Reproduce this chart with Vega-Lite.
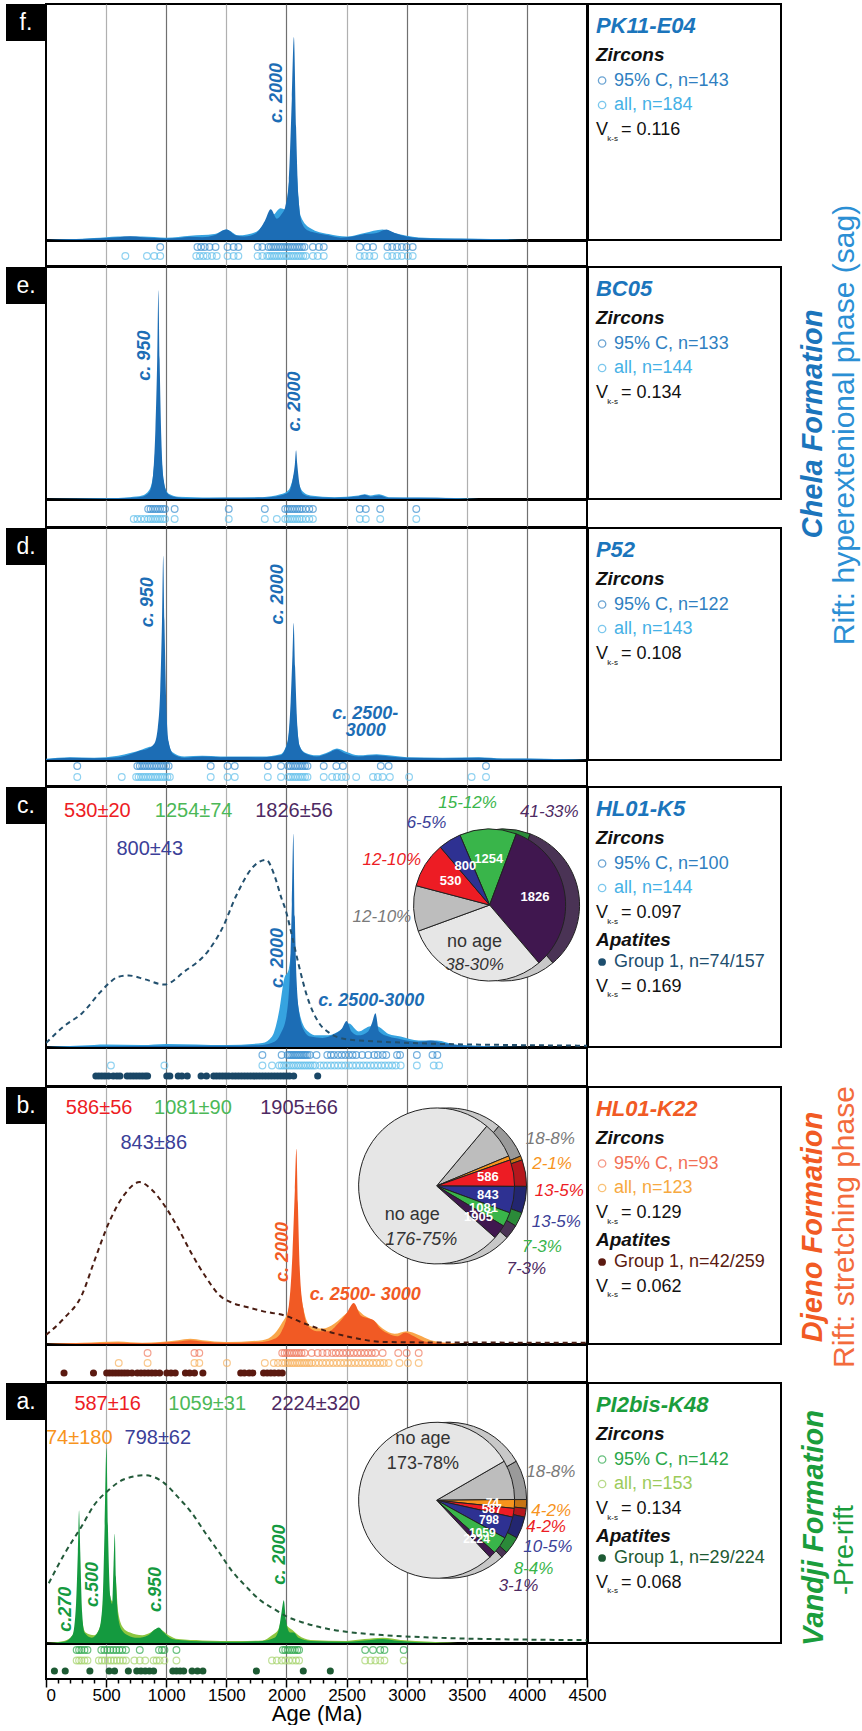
{
"$schema": "https://vega.github.io/schema/vega-lite/v6.json",
"padding": {"left": 6, "top": 3, "right": 0, "bottom": 0},
"background": "white",
"config": {"font": "Liberation Sans, Arial, sans-serif", "view": {"stroke": null}, "concat": {"spacing": 0}},
"datasets": {
"kf_95": [{"age":0,"d":0},{"age":200,"d":0.3},{"age":400,"d":0.6},{"age":600,"d":1.2},{"age":700,"d":1.6},{"age":800,"d":1.2},{"age":900,"d":0.8},{"age":1000,"d":0.6},{"age":1100,"d":0.8},{"age":1200,"d":1.4},{"age":1300,"d":1.2},{"age":1400,"d":2},{"age":1500,"d":4.5},{"age":1580,"d":2},{"age":1650,"d":1.5},{"age":1750,"d":3},{"age":1820,"d":8},{"age":1870,"d":13},{"age":1920,"d":9},{"age":1960,"d":11},{"age":1990,"d":14},{"age":2020,"d":25},{"age":2045,"d":60},{"age":2062,"d":86},{"age":2080,"d":48},{"age":2100,"d":18},{"age":2130,"d":7},{"age":2180,"d":4},{"age":2250,"d":3},{"age":2350,"d":2},{"age":2450,"d":1},{"age":2550,"d":1.5},{"age":2650,"d":2.5},{"age":2750,"d":3},{"age":2830,"d":4.5},{"age":2900,"d":3},{"age":3000,"d":1.5},{"age":3100,"d":0.8},{"age":3300,"d":0.5},{"age":3600,"d":0.4},{"age":3800,"d":0.2},{"age":4000,"d":0},{"age":4500,"d":0}],
"kf_all": [{"age":0,"d":0},{"age":200,"d":0.3},{"age":400,"d":0.8},{"age":600,"d":1.5},{"age":800,"d":1.5},{"age":1000,"d":1},{"age":1200,"d":1.8},{"age":1400,"d":2.5},{"age":1500,"d":4.5},{"age":1600,"d":2},{"age":1750,"d":3.5},{"age":1850,"d":9},{"age":1900,"d":11},{"age":1950,"d":13.5},{"age":1990,"d":13},{"age":2030,"d":30},{"age":2060,"d":55},{"age":2085,"d":30},{"age":2120,"d":10},{"age":2200,"d":5},{"age":2350,"d":2.5},{"age":2500,"d":1.5},{"age":2650,"d":3},{"age":2800,"d":4.5},{"age":2900,"d":3},{"age":3000,"d":1.8},{"age":3200,"d":0.8},{"age":3600,"d":0.5},{"age":3800,"d":0.3},{"age":4000,"d":0},{"age":4500,"d":0}],
"ke_95": [{"age":0,"d":0},{"age":500,"d":0.2},{"age":700,"d":0.5},{"age":800,"d":1},{"age":860,"d":3},{"age":890,"d":10},{"age":910,"d":30},{"age":925,"d":60},{"age":935,"d":90},{"age":945,"d":60},{"age":960,"d":25},{"age":980,"d":8},{"age":1010,"d":2.5},{"age":1060,"d":1},{"age":1200,"d":0.3},{"age":1500,"d":0.5},{"age":1800,"d":0.6},{"age":1950,"d":1.5},{"age":2020,"d":3},{"age":2050,"d":8},{"age":2070,"d":15},{"age":2080,"d":21},{"age":2090,"d":15},{"age":2110,"d":6},{"age":2140,"d":2},{"age":2200,"d":1},{"age":2400,"d":0.5},{"age":2600,"d":1.2},{"age":2650,"d":1.8},{"age":2700,"d":1},{"age":2770,"d":1.5},{"age":2850,"d":0.5},{"age":3100,"d":0.5},{"age":3400,"d":0.3},{"age":3500,"d":0},{"age":4500,"d":0}],
"ke_all": [{"age":0,"d":0},{"age":500,"d":0.3},{"age":700,"d":0.8},{"age":800,"d":1.5},{"age":860,"d":4},{"age":890,"d":10},{"age":910,"d":22},{"age":930,"d":40},{"age":945,"d":35},{"age":965,"d":15},{"age":990,"d":5},{"age":1030,"d":2},{"age":1100,"d":1},{"age":1500,"d":0.6},{"age":1800,"d":0.8},{"age":1950,"d":2},{"age":2020,"d":4},{"age":2050,"d":8},{"age":2075,"d":12},{"age":2100,"d":7},{"age":2140,"d":3},{"age":2200,"d":1.5},{"age":2400,"d":0.8},{"age":2600,"d":1.5},{"age":2650,"d":2},{"age":2700,"d":1.5},{"age":2770,"d":2},{"age":2850,"d":0.8},{"age":3100,"d":0.6},{"age":3400,"d":0.4},{"age":3600,"d":0},{"age":4500,"d":0}],
"kd_95": [{"age":0,"d":0.3},{"age":200,"d":1},{"age":400,"d":0.8},{"age":600,"d":1.2},{"age":700,"d":2.5},{"age":780,"d":4},{"age":850,"d":5},{"age":900,"d":7},{"age":930,"d":14},{"age":950,"d":30},{"age":965,"d":60},{"age":975,"d":88},{"age":985,"d":60},{"age":1000,"d":25},{"age":1020,"d":8},{"age":1060,"d":2.5},{"age":1150,"d":1},{"age":1300,"d":1.5},{"age":1450,"d":1.2},{"age":1600,"d":1.3},{"age":1800,"d":1.2},{"age":1950,"d":2},{"age":2010,"d":8},{"age":2035,"d":25},{"age":2050,"d":45},{"age":2060,"d":59},{"age":2072,"d":40},{"age":2090,"d":15},{"age":2110,"d":6},{"age":2150,"d":3},{"age":2250,"d":1.5},{"age":2350,"d":3},{"age":2420,"d":4.5},{"age":2480,"d":3},{"age":2600,"d":1.5},{"age":2750,"d":2},{"age":2850,"d":1.5},{"age":3000,"d":1},{"age":3300,"d":0.8},{"age":3600,"d":1},{"age":3800,"d":0.5},{"age":4000,"d":0.5},{"age":4300,"d":0.2},{"age":4500,"d":0}],
"kd_all": [{"age":0,"d":0.5},{"age":200,"d":1.2},{"age":400,"d":1},{"age":600,"d":1.8},{"age":700,"d":3},{"age":800,"d":4.5},{"age":850,"d":5.5},{"age":900,"d":6},{"age":935,"d":12},{"age":955,"d":25},{"age":975,"d":45},{"age":990,"d":28},{"age":1010,"d":10},{"age":1050,"d":3.5},{"age":1150,"d":1.5},{"age":1300,"d":1.8},{"age":1450,"d":1.5},{"age":1600,"d":1.5},{"age":1800,"d":1.5},{"age":1950,"d":2.5},{"age":2010,"d":8},{"age":2040,"d":22},{"age":2060,"d":35},{"age":2080,"d":20},{"age":2110,"d":6},{"age":2160,"d":3},{"age":2250,"d":2},{"age":2350,"d":3.5},{"age":2420,"d":5},{"age":2500,"d":3.5},{"age":2600,"d":2},{"age":2750,"d":2.5},{"age":2850,"d":2},{"age":3000,"d":1.2},{"age":3300,"d":1},{"age":3600,"d":1.2},{"age":3800,"d":0.7},{"age":4000,"d":0.6},{"age":4300,"d":0.3},{"age":4500,"d":0}],
"kc_95": [{"age":0,"d":0},{"age":500,"d":0.3},{"age":1000,"d":0.5},{"age":1500,"d":0.5},{"age":1800,"d":0.8},{"age":1900,"d":2},{"age":1950,"d":5},{"age":2000,"d":12},{"age":2030,"d":30},{"age":2045,"d":55},{"age":2058,"d":82},{"age":2070,"d":50},{"age":2085,"d":25},{"age":2110,"d":12},{"age":2150,"d":6},{"age":2200,"d":4},{"age":2300,"d":3.5},{"age":2400,"d":5},{"age":2460,"d":7},{"age":2500,"d":10},{"age":2540,"d":6},{"age":2600,"d":4.5},{"age":2680,"d":6},{"age":2710,"d":9},{"age":2740,"d":13},{"age":2770,"d":6},{"age":2850,"d":4},{"age":2950,"d":3},{"age":3100,"d":2},{"age":3200,"d":2.5},{"age":3300,"d":1.5},{"age":3500,"d":0.5},{"age":4000,"d":0},{"age":4500,"d":0}],
"kc_all": [{"age":0,"d":0},{"age":300,"d":0.6},{"age":500,"d":1},{"age":800,"d":0.8},{"age":1000,"d":1.2},{"age":1500,"d":0.8},{"age":1800,"d":1.5},{"age":1880,"d":4},{"age":1940,"d":14},{"age":1980,"d":26},{"age":2020,"d":30},{"age":2050,"d":38},{"age":2080,"d":22},{"age":2120,"d":11},{"age":2180,"d":6},{"age":2250,"d":4.5},{"age":2350,"d":4.5},{"age":2450,"d":6.5},{"age":2520,"d":9},{"age":2600,"d":6},{"age":2700,"d":8},{"age":2750,"d":8},{"age":2850,"d":5},{"age":2950,"d":4},{"age":3100,"d":2.5},{"age":3250,"d":2.5},{"age":3400,"d":1},{"age":3600,"d":0.5},{"age":4000,"d":0},{"age":4500,"d":0}],
"ac": [{"age":0,"d":1.5},{"age":150,"d":8},{"age":300,"d":13},{"age":450,"d":21},{"age":526,"d":24.6},{"age":600,"d":27},{"age":687,"d":27.5},{"age":824,"d":26},{"age":984,"d":24},{"age":1150,"d":29},{"age":1350,"d":37},{"age":1470,"d":46},{"age":1580,"d":58},{"age":1717,"d":69},{"age":1831,"d":72},{"age":1900,"d":66},{"age":1960,"d":57},{"age":1991,"d":53},{"age":2050,"d":42},{"age":2100,"d":32},{"age":2175,"d":19},{"age":2260,"d":10},{"age":2357,"d":5.4},{"age":2500,"d":3},{"age":2815,"d":2},{"age":3273,"d":1.2},{"age":3800,"d":0.8},{"age":4500,"d":0.5}],
"kb_95": [{"age":0,"d":0},{"age":300,"d":0.3},{"age":600,"d":0.5},{"age":800,"d":0.3},{"age":1100,"d":1},{"age":1200,"d":1.5},{"age":1300,"d":1},{"age":1500,"d":0.5},{"age":1800,"d":0.8},{"age":1900,"d":2},{"age":1960,"d":5},{"age":2020,"d":15},{"age":2050,"d":35},{"age":2070,"d":60},{"age":2083,"d":76},{"age":2095,"d":55},{"age":2110,"d":30},{"age":2140,"d":14},{"age":2180,"d":7},{"age":2250,"d":5},{"age":2350,"d":5},{"age":2430,"d":8},{"age":2500,"d":12},{"age":2560,"d":16},{"age":2620,"d":11},{"age":2680,"d":10},{"age":2730,"d":9},{"age":2780,"d":6},{"age":2850,"d":4},{"age":2920,"d":3},{"age":2990,"d":4.5},{"age":3060,"d":3},{"age":3150,"d":1},{"age":3300,"d":0.3},{"age":3500,"d":0},{"age":4500,"d":0}],
"kb_all": [{"age":0,"d":0},{"age":300,"d":0.5},{"age":600,"d":1},{"age":800,"d":0.5},{"age":1100,"d":1.5},{"age":1200,"d":2},{"age":1300,"d":1.5},{"age":1500,"d":0.8},{"age":1800,"d":1.5},{"age":1900,"d":4},{"age":1960,"d":8},{"age":2020,"d":14},{"age":2060,"d":28},{"age":2083,"d":42},{"age":2110,"d":24},{"age":2150,"d":12},{"age":2200,"d":7},{"age":2300,"d":6},{"age":2400,"d":8},{"age":2500,"d":12},{"age":2560,"d":14},{"age":2650,"d":11},{"age":2730,"d":9},{"age":2800,"d":6},{"age":2900,"d":4},{"age":3000,"d":5},{"age":3100,"d":3.5},{"age":3200,"d":1.5},{"age":3350,"d":0.5},{"age":3500,"d":0},{"age":4500,"d":0}],
"ab": [{"age":0,"d":3.5},{"age":150,"d":10},{"age":298,"d":19},{"age":400,"d":32},{"age":526,"d":47.5},{"age":650,"d":58},{"age":778,"d":63},{"age":880,"d":60},{"age":984,"d":54},{"age":1100,"d":45},{"age":1213,"d":35},{"age":1330,"d":26},{"age":1442,"d":19},{"age":1550,"d":16},{"age":1671,"d":14.4},{"age":1800,"d":12.8},{"age":1991,"d":11},{"age":2150,"d":8},{"age":2357,"d":4.7},{"age":2550,"d":2.5},{"age":2815,"d":0.8},{"age":3200,"d":0.6},{"age":4500,"d":0.5}],
"ka_95": [{"age":0,"d":0},{"age":150,"d":0.5},{"age":220,"d":3},{"age":250,"d":15},{"age":265,"d":35},{"age":275,"d":51},{"age":285,"d":35},{"age":300,"d":12},{"age":320,"d":4},{"age":380,"d":2},{"age":440,"d":5},{"age":470,"d":15},{"age":488,"d":45},{"age":503,"d":75},{"age":515,"d":45},{"age":535,"d":18},{"age":550,"d":15},{"age":562,"d":30},{"age":572,"d":42},{"age":582,"d":25},{"age":600,"d":10},{"age":630,"d":5},{"age":680,"d":3},{"age":760,"d":2},{"age":850,"d":3},{"age":900,"d":5},{"age":938,"d":6},{"age":980,"d":4},{"age":1050,"d":1.5},{"age":1200,"d":0.8},{"age":1500,"d":0.5},{"age":1800,"d":0.8},{"age":1900,"d":2},{"age":1940,"d":6},{"age":1960,"d":12},{"age":1978,"d":16.4},{"age":1995,"d":9},{"age":2030,"d":4},{"age":2060,"d":4},{"age":2100,"d":2},{"age":2200,"d":0.8},{"age":2500,"d":0.5},{"age":2700,"d":1.2},{"age":2800,"d":1.5},{"age":2900,"d":1},{"age":3100,"d":0.3},{"age":3400,"d":0},{"age":4500,"d":0}],
"ka_all": [{"age":0,"d":0},{"age":150,"d":0.8},{"age":220,"d":3},{"age":250,"d":9},{"age":275,"d":28},{"age":300,"d":9},{"age":330,"d":4},{"age":400,"d":3},{"age":460,"d":8},{"age":485,"d":25},{"age":503,"d":42},{"age":525,"d":20},{"age":555,"d":16},{"age":575,"d":26},{"age":600,"d":12},{"age":640,"d":6},{"age":700,"d":4},{"age":800,"d":3},{"age":870,"d":4},{"age":920,"d":5.5},{"age":960,"d":5},{"age":1020,"d":3},{"age":1100,"d":1.5},{"age":1300,"d":1},{"age":1600,"d":0.8},{"age":1800,"d":1},{"age":1880,"d":3},{"age":1930,"d":5},{"age":1970,"d":10},{"age":2000,"d":7},{"age":2050,"d":5},{"age":2100,"d":3},{"age":2200,"d":1.2},{"age":2500,"d":0.8},{"age":2650,"d":1.5},{"age":2800,"d":2},{"age":2950,"d":1.2},{"age":3200,"d":0.5},{"age":3500,"d":0},{"age":4500,"d":0}],
"aa": [{"age":23,"d":23},{"age":150,"d":34},{"age":298,"d":45},{"age":400,"d":53},{"age":526,"d":59},{"age":650,"d":63},{"age":824,"d":64.5},{"age":984,"d":61.5},{"age":1100,"d":56},{"age":1213,"d":50},{"age":1330,"d":42},{"age":1442,"d":34.7},{"age":1550,"d":27.5},{"age":1671,"d":21.4},{"age":1780,"d":16.5},{"age":1900,"d":13},{"age":2010,"d":10},{"age":2128,"d":8},{"age":2357,"d":5.3},{"age":2600,"d":3.8},{"age":2815,"d":3},{"age":3273,"d":2},{"age":4000,"d":1.3},{"age":4500,"d":1.1}],
"sf": [{"s":"95","age":950},{"s":"95","age":1260},{"s":"95","age":1290},{"s":"95","age":1320},{"s":"95","age":1360},{"s":"95","age":1410},{"s":"95","age":1510},{"s":"95","age":1560},{"s":"95","age":1600},{"s":"95","age":1760},{"s":"95","age":1800},{"s":"95","age":1850},{"s":"95","age":1870},{"s":"95","age":1890},{"s":"95","age":1910},{"s":"95","age":1930},{"s":"95","age":1950},{"s":"95","age":1970},{"s":"95","age":1990},{"s":"95","age":2010},{"s":"95","age":2030},{"s":"95","age":2050},{"s":"95","age":2070},{"s":"95","age":2090},{"s":"95","age":2110},{"s":"95","age":2130},{"s":"95","age":2150},{"s":"95","age":2220},{"s":"95","age":2270},{"s":"95","age":2310},{"s":"95","age":2610},{"s":"95","age":2670},{"s":"95","age":2720},{"s":"95","age":2840},{"s":"95","age":2880},{"s":"95","age":2920},{"s":"95","age":2960},{"s":"95","age":3000},{"s":"95","age":3050},
{"s":"all","age":660},{"s":"all","age":840},{"s":"all","age":900},{"s":"all","age":950},{"s":"all","age":1250},{"s":"all","age":1280},{"s":"all","age":1310},{"s":"all","age":1340},{"s":"all","age":1380},{"s":"all","age":1420},{"s":"all","age":1510},{"s":"all","age":1560},{"s":"all","age":1600},{"s":"all","age":1760},{"s":"all","age":1800},{"s":"all","age":1840},{"s":"all","age":1860},{"s":"all","age":1880},{"s":"all","age":1900},{"s":"all","age":1920},{"s":"all","age":1940},{"s":"all","age":1960},{"s":"all","age":1980},{"s":"all","age":2000},{"s":"all","age":2020},{"s":"all","age":2040},{"s":"all","age":2060},{"s":"all","age":2080},{"s":"all","age":2100},{"s":"all","age":2120},{"s":"all","age":2140},{"s":"all","age":2160},{"s":"all","age":2220},{"s":"all","age":2260},{"s":"all","age":2310},{"s":"all","age":2610},{"s":"all","age":2650},{"s":"all","age":2690},{"s":"all","age":2730},{"s":"all","age":2840},{"s":"all","age":2880},{"s":"all","age":2920},{"s":"all","age":2960},{"s":"all","age":3010},{"s":"all","age":3050}],
"se": [{"s":"95","age":850},{"s":"95","age":870},{"s":"95","age":890},{"s":"95","age":910},{"s":"95","age":930},{"s":"95","age":950},{"s":"95","age":970},{"s":"95","age":990},{"s":"95","age":1070},{"s":"95","age":1520},{"s":"95","age":1820},{"s":"95","age":1990},{"s":"95","age":2010},{"s":"95","age":2030},{"s":"95","age":2050},{"s":"95","age":2070},{"s":"95","age":2090},{"s":"95","age":2110},{"s":"95","age":2130},{"s":"95","age":2160},{"s":"95","age":2190},{"s":"95","age":2220},{"s":"95","age":2610},{"s":"95","age":2660},{"s":"95","age":2780},{"s":"95","age":3080},
{"s":"all","age":730},{"s":"all","age":760},{"s":"all","age":790},{"s":"all","age":820},{"s":"all","age":850},{"s":"all","age":870},{"s":"all","age":890},{"s":"all","age":910},{"s":"all","age":930},{"s":"all","age":950},{"s":"all","age":970},{"s":"all","age":990},{"s":"all","age":1070},{"s":"all","age":1520},{"s":"all","age":1820},{"s":"all","age":1920},{"s":"all","age":1990},{"s":"all","age":2010},{"s":"all","age":2030},{"s":"all","age":2050},{"s":"all","age":2070},{"s":"all","age":2090},{"s":"all","age":2110},{"s":"all","age":2130},{"s":"all","age":2160},{"s":"all","age":2190},{"s":"all","age":2220},{"s":"all","age":2610},{"s":"all","age":2660},{"s":"all","age":2780},{"s":"all","age":3080}],
"sd": [{"s":"95","age":260},{"s":"95","age":760},{"s":"95","age":780},{"s":"95","age":800},{"s":"95","age":820},{"s":"95","age":840},{"s":"95","age":860},{"s":"95","age":880},{"s":"95","age":900},{"s":"95","age":920},{"s":"95","age":940},{"s":"95","age":960},{"s":"95","age":980},{"s":"95","age":1000},{"s":"95","age":1020},{"s":"95","age":1370},{"s":"95","age":1510},{"s":"95","age":1570},{"s":"95","age":1845},{"s":"95","age":1955},{"s":"95","age":2015},{"s":"95","age":2035},{"s":"95","age":2055},{"s":"95","age":2075},{"s":"95","age":2095},{"s":"95","age":2115},{"s":"95","age":2135},{"s":"95","age":2155},{"s":"95","age":2175},{"s":"95","age":2310},{"s":"95","age":2415},{"s":"95","age":2470},{"s":"95","age":2785},{"s":"95","age":2850},{"s":"95","age":3660},
{"s":"all","age":260},{"s":"all","age":630},{"s":"all","age":750},{"s":"all","age":770},{"s":"all","age":790},{"s":"all","age":810},{"s":"all","age":830},{"s":"all","age":850},{"s":"all","age":870},{"s":"all","age":890},{"s":"all","age":910},{"s":"all","age":930},{"s":"all","age":950},{"s":"all","age":970},{"s":"all","age":990},{"s":"all","age":1010},{"s":"all","age":1030},{"s":"all","age":1370},{"s":"all","age":1510},{"s":"all","age":1570},{"s":"all","age":1845},{"s":"all","age":1955},{"s":"all","age":2015},{"s":"all","age":2035},{"s":"all","age":2055},{"s":"all","age":2075},{"s":"all","age":2095},{"s":"all","age":2115},{"s":"all","age":2135},{"s":"all","age":2155},{"s":"all","age":2175},{"s":"all","age":2310},{"s":"all","age":2380},{"s":"all","age":2420},{"s":"all","age":2460},{"s":"all","age":2495},{"s":"all","age":2580},{"s":"all","age":2720},{"s":"all","age":2760},{"s":"all","age":2800},{"s":"all","age":2860},{"s":"all","age":3020},{"s":"all","age":3540},{"s":"all","age":3660}],
"sc": [{"s":"95","age":1800},{"s":"95","age":1960},{"s":"95","age":2010},{"s":"95","age":2025},{"s":"95","age":2040},{"s":"95","age":2055},{"s":"95","age":2070},{"s":"95","age":2085},{"s":"95","age":2100},{"s":"95","age":2115},{"s":"95","age":2130},{"s":"95","age":2145},{"s":"95","age":2160},{"s":"95","age":2175},{"s":"95","age":2195},{"s":"95","age":2250},{"s":"95","age":2340},{"s":"95","age":2370},{"s":"95","age":2395},{"s":"95","age":2430},{"s":"95","age":2460},{"s":"95","age":2490},{"s":"95","age":2520},{"s":"95","age":2550},{"s":"95","age":2580},{"s":"95","age":2630},{"s":"95","age":2680},{"s":"95","age":2730},{"s":"95","age":2760},{"s":"95","age":2800},{"s":"95","age":2830},{"s":"95","age":2920},{"s":"95","age":2945},{"s":"95","age":3085},{"s":"95","age":3215},{"s":"95","age":3255},
{"s":"all","age":540},{"s":"all","age":985},{"s":"all","age":1800},{"s":"all","age":1880},{"s":"all","age":1940},{"s":"all","age":1960},{"s":"all","age":1980},{"s":"all","age":2000},{"s":"all","age":2020},{"s":"all","age":2040},{"s":"all","age":2060},{"s":"all","age":2080},{"s":"all","age":2100},{"s":"all","age":2120},{"s":"all","age":2140},{"s":"all","age":2160},{"s":"all","age":2180},{"s":"all","age":2200},{"s":"all","age":2220},{"s":"all","age":2240},{"s":"all","age":2280},{"s":"all","age":2310},{"s":"all","age":2340},{"s":"all","age":2370},{"s":"all","age":2400},{"s":"all","age":2430},{"s":"all","age":2460},{"s":"all","age":2490},{"s":"all","age":2520},{"s":"all","age":2550},{"s":"all","age":2580},{"s":"all","age":2610},{"s":"all","age":2640},{"s":"all","age":2670},{"s":"all","age":2700},{"s":"all","age":2730},{"s":"all","age":2760},{"s":"all","age":2790},{"s":"all","age":2820},{"s":"all","age":2850},{"s":"all","age":2880},{"s":"all","age":2910},{"s":"all","age":2950},{"s":"all","age":3085},{"s":"all","age":3225},{"s":"all","age":3270},
{"s":"apt","age":415},{"s":"apt","age":440},{"s":"apt","age":465},{"s":"apt","age":490},{"s":"apt","age":520},{"s":"apt","age":560},{"s":"apt","age":590},{"s":"apt","age":615},{"s":"apt","age":675},{"s":"apt","age":700},{"s":"apt","age":725},{"s":"apt","age":750},{"s":"apt","age":775},{"s":"apt","age":800},{"s":"apt","age":825},{"s":"apt","age":845},{"s":"apt","age":1005},{"s":"apt","age":1030},{"s":"apt","age":1100},{"s":"apt","age":1130},{"s":"apt","age":1175},{"s":"apt","age":1290},{"s":"apt","age":1335},{"s":"apt","age":1395},{"s":"apt","age":1420},{"s":"apt","age":1445},{"s":"apt","age":1470},{"s":"apt","age":1495},{"s":"apt","age":1520},{"s":"apt","age":1550},{"s":"apt","age":1575},{"s":"apt","age":1600},{"s":"apt","age":1625},{"s":"apt","age":1650},{"s":"apt","age":1675},{"s":"apt","age":1700},{"s":"apt","age":1725},{"s":"apt","age":1750},{"s":"apt","age":1775},{"s":"apt","age":1800},{"s":"apt","age":1825},{"s":"apt","age":1850},{"s":"apt","age":1875},{"s":"apt","age":1900},{"s":"apt","age":1925},{"s":"apt","age":1950},{"s":"apt","age":1975},{"s":"apt","age":2000},{"s":"apt","age":2025},{"s":"apt","age":2060},{"s":"apt","age":2260}],
"sb": [{"s":"95","age":845},{"s":"95","age":1235},{"s":"95","age":1275},{"s":"95","age":1965},{"s":"95","age":1985},{"s":"95","age":2005},{"s":"95","age":2025},{"s":"95","age":2045},{"s":"95","age":2065},{"s":"95","age":2085},{"s":"95","age":2105},{"s":"95","age":2125},{"s":"95","age":2150},{"s":"95","age":2210},{"s":"95","age":2260},{"s":"95","age":2300},{"s":"95","age":2340},{"s":"95","age":2380},{"s":"95","age":2410},{"s":"95","age":2440},{"s":"95","age":2470},{"s":"95","age":2500},{"s":"95","age":2530},{"s":"95","age":2560},{"s":"95","age":2590},{"s":"95","age":2620},{"s":"95","age":2650},{"s":"95","age":2680},{"s":"95","age":2710},{"s":"95","age":2740},{"s":"95","age":2800},{"s":"95","age":2930},{"s":"95","age":3000},{"s":"95","age":3100},
{"s":"all","age":605},{"s":"all","age":845},{"s":"all","age":1235},{"s":"all","age":1275},{"s":"all","age":1505},{"s":"all","age":1820},{"s":"all","age":1895},{"s":"all","age":1930},{"s":"all","age":1965},{"s":"all","age":1990},{"s":"all","age":2010},{"s":"all","age":2030},{"s":"all","age":2050},{"s":"all","age":2070},{"s":"all","age":2090},{"s":"all","age":2110},{"s":"all","age":2130},{"s":"all","age":2150},{"s":"all","age":2170},{"s":"all","age":2190},{"s":"all","age":2210},{"s":"all","age":2240},{"s":"all","age":2270},{"s":"all","age":2300},{"s":"all","age":2330},{"s":"all","age":2360},{"s":"all","age":2390},{"s":"all","age":2420},{"s":"all","age":2450},{"s":"all","age":2480},{"s":"all","age":2510},{"s":"all","age":2540},{"s":"all","age":2570},{"s":"all","age":2600},{"s":"all","age":2630},{"s":"all","age":2660},{"s":"all","age":2690},{"s":"all","age":2720},{"s":"all","age":2750},{"s":"all","age":2780},{"s":"all","age":2810},{"s":"all","age":2850},{"s":"all","age":2940},{"s":"all","age":3010},{"s":"all","age":3100},
{"s":"apt","age":150},{"s":"apt","age":395},{"s":"apt","age":505},{"s":"apt","age":530},{"s":"apt","age":555},{"s":"apt","age":580},{"s":"apt","age":605},{"s":"apt","age":630},{"s":"apt","age":655},{"s":"apt","age":680},{"s":"apt","age":715},{"s":"apt","age":760},{"s":"apt","age":790},{"s":"apt","age":820},{"s":"apt","age":850},{"s":"apt","age":880},{"s":"apt","age":910},{"s":"apt","age":945},{"s":"apt","age":1005},{"s":"apt","age":1040},{"s":"apt","age":1075},{"s":"apt","age":1160},{"s":"apt","age":1195},{"s":"apt","age":1235},{"s":"apt","age":1305},{"s":"apt","age":1620},{"s":"apt","age":1650},{"s":"apt","age":1690},{"s":"apt","age":1720},{"s":"apt","age":1810},{"s":"apt","age":1840},{"s":"apt","age":1870},{"s":"apt","age":1900},{"s":"apt","age":1935},{"s":"apt","age":1965}],
"sa": [{"s":"95","age":255},{"s":"95","age":275},{"s":"95","age":295},{"s":"95","age":320},{"s":"95","age":345},{"s":"95","age":460},{"s":"95","age":485},{"s":"95","age":510},{"s":"95","age":535},{"s":"95","age":560},{"s":"95","age":585},{"s":"95","age":610},{"s":"95","age":635},{"s":"95","age":665},{"s":"95","age":780},{"s":"95","age":940},{"s":"95","age":965},{"s":"95","age":985},{"s":"95","age":1085},{"s":"95","age":1970},{"s":"95","age":1990},{"s":"95","age":2010},{"s":"95","age":2030},{"s":"95","age":2050},{"s":"95","age":2070},{"s":"95","age":2090},{"s":"95","age":2105},{"s":"95","age":2655},{"s":"95","age":2720},{"s":"95","age":2780},{"s":"95","age":2815},{"s":"95","age":2975},
{"s":"all","age":255},{"s":"all","age":275},{"s":"all","age":295},{"s":"all","age":320},{"s":"all","age":345},{"s":"all","age":440},{"s":"all","age":465},{"s":"all","age":490},{"s":"all","age":515},{"s":"all","age":540},{"s":"all","age":565},{"s":"all","age":590},{"s":"all","age":615},{"s":"all","age":640},{"s":"all","age":665},{"s":"all","age":735},{"s":"all","age":780},{"s":"all","age":825},{"s":"all","age":895},{"s":"all","age":920},{"s":"all","age":945},{"s":"all","age":985},{"s":"all","age":1085},{"s":"all","age":1880},{"s":"all","age":1920},{"s":"all","age":1960},{"s":"all","age":1990},{"s":"all","age":2020},{"s":"all","age":2050},{"s":"all","age":2080},{"s":"all","age":2105},{"s":"all","age":2655},{"s":"all","age":2700},{"s":"all","age":2740},{"s":"all","age":2780},{"s":"all","age":2815},{"s":"all","age":2975},
{"s":"apt","age":70},{"s":"apt","age":160},{"s":"apt","age":365},{"s":"apt","age":525},{"s":"apt","age":570},{"s":"apt","age":685},{"s":"apt","age":755},{"s":"apt","age":790},{"s":"apt","age":825},{"s":"apt","age":860},{"s":"apt","age":895},{"s":"apt","age":1055},{"s":"apt","age":1085},{"s":"apt","age":1115},{"s":"apt","age":1145},{"s":"apt","age":1215},{"s":"apt","age":1260},{"s":"apt","age":1305},{"s":"apt","age":1750},{"s":"apt","age":2140},{"s":"apt","age":2365}],
"pc": [{"k":1,"s":"g","n":15,"lab":"1254","age":3690,"age2":3806,"d":54.6},{"k":2,"s":"p","n":41,"lab":"1826","age":3690,"age2":3806,"d":54.6},{"k":3,"s":"na","n":38,"lab":"","age":3690,"age2":3806,"d":54.6},{"k":4,"s":"gy","n":12,"lab":"","age":3690,"age2":3806,"d":54.6},{"k":5,"s":"r","n":12,"lab":"530","age":3690,"age2":3806,"d":54.6},{"k":6,"s":"b","n":6,"lab":"800","age":3690,"age2":3806,"d":54.6}],
"pb": [{"k":1,"s":"gy","n":18,"lab":"","age":3249,"age2":3349,"d":61.5},{"k":2,"s":"o","n":2,"lab":"","age":3249,"age2":3349,"d":61.5},{"k":3,"s":"r","n":13,"lab":"586","age":3249,"age2":3349,"d":61.5},{"k":4,"s":"b","n":13,"lab":"843","age":3249,"age2":3349,"d":61.5},{"k":5,"s":"g","n":7,"lab":"1081","age":3249,"age2":3349,"d":61.5},{"k":6,"s":"p","n":7,"lab":"1905","age":3249,"age2":3349,"d":61.5},{"k":7,"s":"na","n":176,"lab":"","age":3249,"age2":3349,"d":61.5}],
"pa": [{"k":1,"s":"gy","n":18,"lab":"","age":3249,"age2":3349,"d":54.9},{"k":2,"s":"o","n":4,"lab":"74","age":3249,"age2":3349,"d":54.9},{"k":3,"s":"r","n":4,"lab":"587","age":3249,"age2":3349,"d":54.9},{"k":4,"s":"b","n":10,"lab":"798","age":3249,"age2":3349,"d":54.9},{"k":5,"s":"g","n":8,"lab":"1059","age":3249,"age2":3349,"d":54.9},{"k":6,"s":"p","n":3,"lab":"2224","age":3249,"age2":3349,"d":54.9},{"k":7,"s":"na","n":173,"lab":"","age":3249,"age2":3349,"d":54.9}]
},
"hconcat": [
{"vconcat": [
{"hconcat": [
 {"width":40,"height":37,"view":{"fill":"black","stroke":null},"data":{"values":[{"t":"f."}]},"mark":{"type":"text","color":"white","fontSize":23},"encoding":{"text":{"field":"t"}}},
 {"vconcat": [
  {"hconcat": [
   {"width":541,"height":236,"view":{"stroke":"black","strokeWidth":2},
    "encoding":{"x":{"field":"age","type":"quantitative","scale":{"domain":[0,4500],"nice":false,"zero":false},"title":null,"axis":{"values":[500,1000,1500,2000,2500,3000,3500,4000],"grid":true,"labels":false,"ticks":false,"domain":false,"title":null,"gridColor":{"condition":{"test":"datum.value % 1000 === 0","value":"#707070"},"value":"#b0b0b0"},"gridWidth":1.2}},"y":{"field":"d","type":"quantitative","scale":{"domain":[0,100]},"axis":null}},
    "layer":[
     {"data":{"name":"kf_all"},"mark":{"type":"area","interpolate":"monotone","color":"#36a3e0"}},
     {"data":{"name":"kf_95"},"mark":{"type":"area","interpolate":"monotone","color":"#1c6db5"}},
     {"data":{"values":[{"age":1923,"d":62.3,"t":"c. 2000"}]},"mark":{"type":"text","angle":270,"fontSize":18,"fontWeight":"bold","fontStyle":"italic","color":"#1c6db5"},"encoding":{"text":{"field":"t"}}}
    ]},
   {"width":193,"height":236,"view":{"stroke":"black","strokeWidth":2},
    "encoding":{"x":{"field":"col","type":"quantitative","scale":{"domain":[0,10]},"axis":null},"y":{"field":"line","type":"quantitative","scale":{"domain":[0,9.44],"reverse":true},"axis":null}},
    "layer":[
     {"data":{"values":[{"col":0.41,"line":0.86,"t":"PK11-E04"}]},"mark":{"type":"text","align":"left","baseline":"middle","fontSize":22,"fontWeight":"bold","fontStyle":"italic","color":"#1b75bc"},"encoding":{"text":{"field":"t"}}},
     {"data":{"values":[{"col":0.41,"line":2.02,"t":"Zircons"}]},"mark":{"type":"text","align":"left","baseline":"middle","fontSize":19,"fontWeight":"bold","fontStyle":"italic","color":"#111111"},"encoding":{"text":{"field":"t"}}},
     {"data":{"values":[{"col":1.35,"line":3.06,"t":"95% C, n=143","k":"c95"},{"col":1.35,"line":4.04,"t":"all, n=184","k":"call"},{"col":0.41,"line":5.04,"t":"V","k":"blk"},{"col":1.71,"line":5.04,"t":"= 0.116","k":"blk"}]},"mark":{"type":"text","align":"left","baseline":"middle","fontSize":18},"encoding":{"text":{"field":"t"},"color":{"field":"k","type":"nominal","scale":{"domain":["c95","call","blk","grp"],"range":["#2f7fc1","#45b1e6","#111111","#1d4e6e"]},"legend":null}}},
     {"data":{"values":[{"col":1.0,"line":5.38,"t":"k-s"}]},"mark":{"type":"text","align":"left","baseline":"middle","fontSize":8,"color":"#111111"},"encoding":{"text":{"field":"t"}}},
     {"data":{"values":[{"col":0.73,"line":3.06,"k":"c95"},{"col":0.73,"line":4.04,"k":"call"}]},"mark":{"type":"point","shape":"circle","filled":false,"size":55,"strokeWidth":1.3},"encoding":{"color":{"field":"k","type":"nominal","scale":{"domain":["c95","call","blk","grp"],"range":["#2f7fc1","#45b1e6","#111111","#1d4e6e"]},"legend":null}}}
    ]}
  ],"spacing":-4,"resolve":{"scale":{"color":"independent","theta":"independent"}}},
  {"width":541,"height":25,"view":{"stroke":"black","strokeWidth":2},"data":{"name":"sf"},
   "encoding":{"x":{"field":"age","type":"quantitative","scale":{"domain":[0,4500],"nice":false,"zero":false},"title":null,"axis":{"values":[500,1000,1500,2000,2500,3000,3500,4000],"grid":true,"labels":false,"ticks":false,"domain":false,"title":null,"gridColor":{"condition":{"test":"datum.value % 1000 === 0","value":"#707070"},"value":"#b0b0b0"},"gridWidth":1.2}},"y":{"field":"s","type":"nominal","scale":{"type":"point","domain":["95","all"],"padding":0.89,"align":0.375},"axis":null},
    "color":{"field":"s","type":"nominal","scale":{"domain":["95","all"],"range":["#3a8fd0","#62c0ec"]},"legend":null}},
   "mark":{"type":"point","shape":"circle","filled":false,"size":45,"strokeWidth":1.2}}
 ],"spacing":-4,"resolve":{"scale":{"color":"independent","theta":"independent"}}}
],"spacing":-2,"resolve":{"scale":{"color":"independent","theta":"independent"}}},

{"hconcat": [
 {"width":40,"height":37,"view":{"fill":"black","stroke":null},"data":{"values":[{"t":"e."}]},"mark":{"type":"text","color":"white","fontSize":23},"encoding":{"text":{"field":"t"}}},
 {"vconcat": [
  {"hconcat": [
   {"width":541,"height":232,"view":{"stroke":"black","strokeWidth":2},
    "encoding":{"x":{"field":"age","type":"quantitative","scale":{"domain":[0,4500],"nice":false,"zero":false},"title":null,"axis":{"values":[500,1000,1500,2000,2500,3000,3500,4000],"grid":true,"labels":false,"ticks":false,"domain":false,"title":null,"gridColor":{"condition":{"test":"datum.value % 1000 === 0","value":"#707070"},"value":"#b0b0b0"},"gridWidth":1.2}},"y":{"field":"d","type":"quantitative","scale":{"domain":[0,100]},"axis":null}},
    "layer":[
     {"data":{"name":"ke_all"},"mark":{"type":"area","interpolate":"monotone","color":"#36a3e0"}},
     {"data":{"name":"ke_95"},"mark":{"type":"area","interpolate":"monotone","color":"#1c6db5"}},
     {"data":{"values":[{"age":820,"d":61.8,"t":"c. 950"},{"age":2069,"d":42,"t":"c. 2000"}]},"mark":{"type":"text","angle":270,"fontSize":18,"fontWeight":"bold","fontStyle":"italic","color":"#1c6db5"},"encoding":{"text":{"field":"t"}}}
    ]},
   {"width":193,"height":232,"view":{"stroke":"black","strokeWidth":2},
    "encoding":{"x":{"field":"col","type":"quantitative","scale":{"domain":[0,10]},"axis":null},"y":{"field":"line","type":"quantitative","scale":{"domain":[0,9.28],"reverse":true},"axis":null}},
    "layer":[
     {"data":{"values":[{"col":0.41,"line":0.86,"t":"BC05"}]},"mark":{"type":"text","align":"left","baseline":"middle","fontSize":22,"fontWeight":"bold","fontStyle":"italic","color":"#1b75bc"},"encoding":{"text":{"field":"t"}}},
     {"data":{"values":[{"col":0.41,"line":2.02,"t":"Zircons"}]},"mark":{"type":"text","align":"left","baseline":"middle","fontSize":19,"fontWeight":"bold","fontStyle":"italic","color":"#111111"},"encoding":{"text":{"field":"t"}}},
     {"data":{"values":[{"col":1.35,"line":3.06,"t":"95% C, n=133","k":"c95"},{"col":1.35,"line":4.04,"t":"all, n=144","k":"call"},{"col":0.41,"line":5.04,"t":"V","k":"blk"},{"col":1.71,"line":5.04,"t":"= 0.134","k":"blk"}]},"mark":{"type":"text","align":"left","baseline":"middle","fontSize":18},"encoding":{"text":{"field":"t"},"color":{"field":"k","type":"nominal","scale":{"domain":["c95","call","blk","grp"],"range":["#2f7fc1","#45b1e6","#111111","#1d4e6e"]},"legend":null}}},
     {"data":{"values":[{"col":1.0,"line":5.38,"t":"k-s"}]},"mark":{"type":"text","align":"left","baseline":"middle","fontSize":8,"color":"#111111"},"encoding":{"text":{"field":"t"}}},
     {"data":{"values":[{"col":0.73,"line":3.06,"k":"c95"},{"col":0.73,"line":4.04,"k":"call"}]},"mark":{"type":"point","shape":"circle","filled":false,"size":55,"strokeWidth":1.3},"encoding":{"color":{"field":"k","type":"nominal","scale":{"domain":["c95","call","blk","grp"],"range":["#2f7fc1","#45b1e6","#111111","#1d4e6e"]},"legend":null}}}
    ]}
  ],"spacing":-4,"resolve":{"scale":{"color":"independent","theta":"independent"}}},
  {"width":541,"height":27,"view":{"stroke":"black","strokeWidth":2},"data":{"name":"se"},
   "encoding":{"x":{"field":"age","type":"quantitative","scale":{"domain":[0,4500],"nice":false,"zero":false},"title":null,"axis":{"values":[500,1000,1500,2000,2500,3000,3500,4000],"grid":true,"labels":false,"ticks":false,"domain":false,"title":null,"gridColor":{"condition":{"test":"datum.value % 1000 === 0","value":"#707070"},"value":"#b0b0b0"},"gridWidth":1.2}},"y":{"field":"s","type":"nominal","scale":{"type":"point","domain":["95","all"],"padding":0.85,"align":0.53},"axis":null},
    "color":{"field":"s","type":"nominal","scale":{"domain":["95","all"],"range":["#3a8fd0","#62c0ec"]},"legend":null}},
   "mark":{"type":"point","shape":"circle","filled":false,"size":45,"strokeWidth":1.2}}
 ],"spacing":-4,"resolve":{"scale":{"color":"independent","theta":"independent"}}}
],"spacing":-2,"resolve":{"scale":{"color":"independent","theta":"independent"}}},

{"hconcat": [
 {"width":40,"height":37,"view":{"fill":"black","stroke":null},"data":{"values":[{"t":"d."}]},"mark":{"type":"text","color":"white","fontSize":23},"encoding":{"text":{"field":"t"}}},
 {"vconcat": [
  {"hconcat": [
   {"width":541,"height":232,"view":{"stroke":"black","strokeWidth":2},
    "encoding":{"x":{"field":"age","type":"quantitative","scale":{"domain":[0,4500],"nice":false,"zero":false},"title":null,"axis":{"values":[500,1000,1500,2000,2500,3000,3500,4000],"grid":true,"labels":false,"ticks":false,"domain":false,"title":null,"gridColor":{"condition":{"test":"datum.value % 1000 === 0","value":"#707070"},"value":"#b0b0b0"},"gridWidth":1.2}},"y":{"field":"d","type":"quantitative","scale":{"domain":[0,100]},"axis":null}},
    "layer":[
     {"data":{"name":"kd_all"},"mark":{"type":"area","interpolate":"monotone","color":"#36a3e0"}},
     {"data":{"name":"kd_95"},"mark":{"type":"area","interpolate":"monotone","color":"#1c6db5"}},
     {"data":{"values":[{"age":852,"d":68,"t":"c. 950"},{"age":1932,"d":71.4,"t":"c. 2000"}]},"mark":{"type":"text","angle":270,"fontSize":18,"fontWeight":"bold","fontStyle":"italic","color":"#1c6db5"},"encoding":{"text":{"field":"t"}}},
     {"data":{"values":[{"age":2655,"d":19.7,"t":"c. 2500-"},{"age":2660,"d":12.4,"t":"3000"}]},"mark":{"type":"text","fontSize":18,"fontWeight":"bold","fontStyle":"italic","color":"#1c6db5"},"encoding":{"text":{"field":"t"}}}
    ]},
   {"width":193,"height":232,"view":{"stroke":"black","strokeWidth":2},
    "encoding":{"x":{"field":"col","type":"quantitative","scale":{"domain":[0,10]},"axis":null},"y":{"field":"line","type":"quantitative","scale":{"domain":[0,9.28],"reverse":true},"axis":null}},
    "layer":[
     {"data":{"values":[{"col":0.41,"line":0.86,"t":"P52"}]},"mark":{"type":"text","align":"left","baseline":"middle","fontSize":22,"fontWeight":"bold","fontStyle":"italic","color":"#1b75bc"},"encoding":{"text":{"field":"t"}}},
     {"data":{"values":[{"col":0.41,"line":2.02,"t":"Zircons"}]},"mark":{"type":"text","align":"left","baseline":"middle","fontSize":19,"fontWeight":"bold","fontStyle":"italic","color":"#111111"},"encoding":{"text":{"field":"t"}}},
     {"data":{"values":[{"col":1.35,"line":3.06,"t":"95% C, n=122","k":"c95"},{"col":1.35,"line":4.04,"t":"all, n=143","k":"call"},{"col":0.41,"line":5.04,"t":"V","k":"blk"},{"col":1.71,"line":5.04,"t":"= 0.108","k":"blk"}]},"mark":{"type":"text","align":"left","baseline":"middle","fontSize":18},"encoding":{"text":{"field":"t"},"color":{"field":"k","type":"nominal","scale":{"domain":["c95","call","blk","grp"],"range":["#2f7fc1","#45b1e6","#111111","#1d4e6e"]},"legend":null}}},
     {"data":{"values":[{"col":1.0,"line":5.38,"t":"k-s"}]},"mark":{"type":"text","align":"left","baseline":"middle","fontSize":8,"color":"#111111"},"encoding":{"text":{"field":"t"}}},
     {"data":{"values":[{"col":0.73,"line":3.06,"k":"c95"},{"col":0.73,"line":4.04,"k":"call"}]},"mark":{"type":"point","shape":"circle","filled":false,"size":55,"strokeWidth":1.3},"encoding":{"color":{"field":"k","type":"nominal","scale":{"domain":["c95","call","blk","grp"],"range":["#2f7fc1","#45b1e6","#111111","#1d4e6e"]},"legend":null}}}
    ]}
  ],"spacing":-4,"resolve":{"scale":{"color":"independent","theta":"independent"}}},
  {"width":541,"height":25,"view":{"stroke":"black","strokeWidth":2},"data":{"name":"sd"},
   "encoding":{"x":{"field":"age","type":"quantitative","scale":{"domain":[0,4500],"nice":false,"zero":false},"title":null,"axis":{"values":[500,1000,1500,2000,2500,3000,3500,4000],"grid":true,"labels":false,"ticks":false,"domain":false,"title":null,"gridColor":{"condition":{"test":"datum.value % 1000 === 0","value":"#707070"},"value":"#b0b0b0"},"gridWidth":1.2}},"y":{"field":"s","type":"nominal","scale":{"type":"point","domain":["95","all"],"padding":0.64,"align":0.36},"axis":null},
    "color":{"field":"s","type":"nominal","scale":{"domain":["95","all"],"range":["#3a8fd0","#62c0ec"]},"legend":null}},
   "mark":{"type":"point","shape":"circle","filled":false,"size":45,"strokeWidth":1.2}}
 ],"spacing":-4,"resolve":{"scale":{"color":"independent","theta":"independent"}}}
],"spacing":-2,"resolve":{"scale":{"color":"independent","theta":"independent"}}},

{"hconcat": [
 {"width":40,"height":37,"view":{"fill":"black","stroke":null},"data":{"values":[{"t":"c."}]},"mark":{"type":"text","color":"white","fontSize":23},"encoding":{"text":{"field":"t"}}},
 {"vconcat": [
  {"hconcat": [
   {"width":541,"height":260,"view":{"stroke":"black","strokeWidth":2},
    "encoding":{"x":{"field":"age","type":"quantitative","scale":{"domain":[0,4500],"nice":false,"zero":false},"title":null,"axis":{"values":[500,1000,1500,2000,2500,3000,3500,4000],"grid":true,"labels":false,"ticks":false,"domain":false,"title":null,"gridColor":{"condition":{"test":"datum.value % 1000 === 0","value":"#707070"},"value":"#b0b0b0"},"gridWidth":1.2}},"y":{"field":"d","type":"quantitative","scale":{"domain":[0,100]},"axis":null}},
    "layer":[
     {"data":{"name":"kc_all"},"mark":{"type":"area","interpolate":"monotone","color":"#36a3e0"}},
     {"data":{"name":"kc_95"},"mark":{"type":"area","interpolate":"monotone","color":"#1c6db5"}},
     {"data":{"name":"ac"},"mark":{"type":"line","interpolate":"monotone","color":"#23506e","strokeDash":[5,4],"strokeWidth":2,"clip":true}},
     {"data":{"values":[{"age":1932,"d":34.2,"t":"c. 2000"}]},"mark":{"type":"text","angle":270,"fontSize":18,"fontWeight":"bold","fontStyle":"italic","color":"#1c6db5"},"encoding":{"text":{"field":"t"}}},
     {"data":{"values":[{"age":2706,"d":17.7,"t":"c. 2500-3000"}]},"mark":{"type":"text","fontSize":18,"fontWeight":"bold","fontStyle":"italic","color":"#1c6db5"},"encoding":{"text":{"field":"t"}}},
     {"data":{"values":[{"s":"r","lo":510,"hi":550},{"s":"b","lo":757,"hi":843},{"s":"g","lo":1180,"hi":1328},{"s":"p","lo":1770,"hi":1882}]},"mark":{"type":"rule","strokeWidth":2,"clip":true},"encoding":{"x":{"field":"lo","type":"quantitative","title":null},"x2":{"field":"hi"},"y":{"datum":83},"color":{"field":"s","type":"nominal","scale":{"domain":["r","b","g","p","o"],"range":["#ed1c24","#2e3192","#39b54a","#4a1f5e","#f7941d"]},"legend":null}}},
     {"data":{"values":[{"s":"r","age":530},{"s":"b","age":800},{"s":"g","age":1254},{"s":"p","age":1826}]},"mark":{"type":"circle","size":110,"opacity":1},"encoding":{"y":{"datum":83},"color":{"field":"s","type":"nominal","scale":{"domain":["r","b","g","p","o"],"range":["#ed1c24","#2e3192","#39b54a","#4a1f5e","#f7941d"]},"legend":null}}},
     {"data":{"values":[{"s":"r","age":427,"d":90.8,"t":"530±20"},{"s":"b","age":863,"d":76,"t":"800±43"},{"s":"g","age":1228,"d":90.8,"t":"1254±74"},{"s":"p","age":2063,"d":90.8,"t":"1826±56"}]},"mark":{"type":"text","fontSize":20},"encoding":{"text":{"field":"t"},"color":{"field":"s","type":"nominal","scale":{"domain":["r","b","g","p","o"],"range":["#ed1c24","#3b3f98","#4cb857","#4e2a63","#f7941d"]},"legend":null}}},
     {"data":{"name":"pc"},"mark":{"type":"arc","outerRadius":76,"stroke":"#222222","strokeWidth":1},"encoding":{"x":{"field":"age2","type":"quantitative","title":null},"theta":{"field":"n","type":"quantitative","stack":true,"scale":{"range":[-0.401,5.882],"nice":false}},"order":{"field":"k","type":"quantitative"},"color":{"field":"s","type":"nominal","scale":{"domain":["na","gy","r","b","g","p","o"],"range":["#c8c8c8","#9a9a9a","#b5171d","#232670","#2b8a39","#4a3355","#c77414"]},"legend":null}}},
     {"data":{"name":"pc"},"mark":{"type":"arc","outerRadius":76,"stroke":"#222222","strokeWidth":1},"encoding":{"theta":{"field":"n","type":"quantitative","stack":true,"scale":{"range":[-0.401,5.882],"nice":false}},"order":{"field":"k","type":"quantitative"},"color":{"field":"s","type":"nominal","scale":{"domain":["na","gy","r","b","g","p","o"],"range":["#e6e6e6","#bdbdbd","#ed1c24","#2e3192","#39b54a","#40174f","#f7941d"]},"legend":null}}},
     {"data":{"name":"pc"},"mark":{"type":"text","radius":46,"color":"white","fontWeight":"bold","fontSize":13},"encoding":{"theta":{"field":"n","type":"quantitative","stack":true,"scale":{"range":[-0.401,5.882],"nice":false}},"order":{"field":"k","type":"quantitative"},"text":{"field":"lab"}}},
     {"data":{"values":[{"s":"g","age":3507,"d":93.8,"t":"15-12%"},{"s":"p","age":4187,"d":90.4,"t":"41-33%"},{"s":"b","age":3165,"d":86.2,"t":"6-5%"},{"s":"r","age":2876,"d":71.9,"t":"12-10%"},{"s":"gy","age":2794,"d":50,"t":"12-10%"},{"s":"k","age":3564,"d":31.5,"t":"38-30%"}]},"mark":{"type":"text","fontSize":17,"fontStyle":"italic"},"encoding":{"text":{"field":"t"},"color":{"field":"s","type":"nominal","scale":{"domain":["r","b","g","p","o","gy","k"],"range":["#ed1c24","#3b3f98","#39b54a","#4e2a63","#f7941d","#7a7a7a","#333333"]},"legend":null}}},
     {"data":{"values":[{"age":3564,"d":40.4,"t":"no age"}]},"mark":{"type":"text","fontSize":18,"color":"#333333"},"encoding":{"text":{"field":"t"}}}
    ],
    "resolve":{"scale":{"color":"independent"}}},
   {"width":193,"height":260,"view":{"stroke":"black","strokeWidth":2},
    "encoding":{"x":{"field":"col","type":"quantitative","scale":{"domain":[0,10]},"axis":null},"y":{"field":"line","type":"quantitative","scale":{"domain":[0,10.4],"reverse":true},"axis":null}},
    "layer":[
     {"data":{"values":[{"col":0.41,"line":0.86,"t":"HL01-K5"}]},"mark":{"type":"text","align":"left","baseline":"middle","fontSize":22,"fontWeight":"bold","fontStyle":"italic","color":"#1b75bc"},"encoding":{"text":{"field":"t"}}},
     {"data":{"values":[{"col":0.41,"line":2.02,"t":"Zircons"},{"col":0.41,"line":6.12,"t":"Apatites"}]},"mark":{"type":"text","align":"left","baseline":"middle","fontSize":19,"fontWeight":"bold","fontStyle":"italic","color":"#111111"},"encoding":{"text":{"field":"t"}}},
     {"data":{"values":[{"col":1.35,"line":3.06,"t":"95% C, n=100","k":"c95"},{"col":1.35,"line":4.04,"t":"all, n=144","k":"call"},{"col":0.41,"line":5.04,"t":"V","k":"blk"},{"col":1.71,"line":5.04,"t":"= 0.097","k":"blk"},{"col":1.35,"line":7.0,"t":"Group 1, n=74/157","k":"grp"},{"col":0.41,"line":7.98,"t":"V","k":"blk"},{"col":1.71,"line":7.98,"t":"= 0.169","k":"blk"}]},"mark":{"type":"text","align":"left","baseline":"middle","fontSize":18},"encoding":{"text":{"field":"t"},"color":{"field":"k","type":"nominal","scale":{"domain":["c95","call","blk","grp"],"range":["#2f7fc1","#45b1e6","#111111","#1d4e6e"]},"legend":null}}},
     {"data":{"values":[{"col":1.0,"line":5.38,"t":"k-s"},{"col":1.0,"line":8.32,"t":"k-s"}]},"mark":{"type":"text","align":"left","baseline":"middle","fontSize":8,"color":"#111111"},"encoding":{"text":{"field":"t"}}},
     {"data":{"values":[{"col":0.73,"line":3.06,"k":"c95"},{"col":0.73,"line":4.04,"k":"call"}]},"mark":{"type":"point","shape":"circle","filled":false,"size":55,"strokeWidth":1.3},"encoding":{"color":{"field":"k","type":"nominal","scale":{"domain":["c95","call","blk","grp"],"range":["#2f7fc1","#45b1e6","#111111","#1d4e6e"]},"legend":null}}},
     {"data":{"values":[{"col":0.73,"line":7.0,"k":"grp"}]},"mark":{"type":"circle","size":60,"opacity":1},"encoding":{"color":{"field":"k","type":"nominal","scale":{"domain":["c95","call","blk","grp"],"range":["#2f7fc1","#45b1e6","#111111","#1d4e6e"]},"legend":null}}}
    ]}
  ],"spacing":-4,"resolve":{"scale":{"color":"independent","theta":"independent"}}},
  {"width":541,"height":38,"view":{"stroke":"black","strokeWidth":2},"data":{"name":"sc"},
   "encoding":{"x":{"field":"age","type":"quantitative","scale":{"domain":[0,4500],"nice":false,"zero":false},"title":null,"axis":{"values":[500,1000,1500,2000,2500,3000,3500,4000],"grid":true,"labels":false,"ticks":false,"domain":false,"title":null,"gridColor":{"condition":{"test":"datum.value % 1000 === 0","value":"#707070"},"value":"#b0b0b0"},"gridWidth":1.2}},"y":{"field":"s","type":"nominal","scale":{"type":"point","domain":["95","all","apt"],"padding":0.81,"align":0.41},"axis":null}},
   "layer":[
    {"transform":[{"filter":"datum.s !== 'apt'"}],"mark":{"type":"point","shape":"circle","filled":false,"size":45,"strokeWidth":1.2},"encoding":{"color":{"field":"s","type":"nominal","scale":{"domain":["95","all"],"range":["#3a8fd0","#62c0ec"]},"legend":null}}},
    {"transform":[{"filter":"datum.s === 'apt'"}],"mark":{"type":"circle","size":50,"opacity":1,"color":"#1a4766"}}
   ]}
 ],"spacing":-4,"resolve":{"scale":{"color":"independent","theta":"independent"}}}
],"spacing":-2,"resolve":{"scale":{"color":"independent","theta":"independent"}}},

{"hconcat": [
 {"width":40,"height":37,"view":{"fill":"black","stroke":null},"data":{"values":[{"t":"b."}]},"mark":{"type":"text","color":"white","fontSize":23},"encoding":{"text":{"field":"t"}}},
 {"vconcat": [
  {"hconcat": [
   {"width":541,"height":257,"view":{"stroke":"black","strokeWidth":2},
    "encoding":{"x":{"field":"age","type":"quantitative","scale":{"domain":[0,4500],"nice":false,"zero":false},"title":null,"axis":{"values":[500,1000,1500,2000,2500,3000,3500,4000],"grid":true,"labels":false,"ticks":false,"domain":false,"title":null,"gridColor":{"condition":{"test":"datum.value % 1000 === 0","value":"#707070"},"value":"#b0b0b0"},"gridWidth":1.2}},"y":{"field":"d","type":"quantitative","scale":{"domain":[0,100]},"axis":null}},
    "layer":[
     {"data":{"name":"kb_all"},"mark":{"type":"area","interpolate":"monotone","color":"#f9a64a"}},
     {"data":{"name":"kb_95"},"mark":{"type":"area","interpolate":"monotone","color":"#f15a24"}},
     {"data":{"name":"ab"},"mark":{"type":"line","interpolate":"monotone","color":"#4a1c12","strokeDash":[5,4],"strokeWidth":2,"clip":true}},
     {"data":{"values":[{"age":1969,"d":35.8,"t":"c. 2000"}]},"mark":{"type":"text","angle":270,"fontSize":18,"fontWeight":"bold","fontStyle":"italic","color":"#f15a24"},"encoding":{"text":{"field":"t"}}},
     {"data":{"values":[{"age":2655,"d":19,"t":"c. 2500- 3000"}]},"mark":{"type":"text","fontSize":18,"fontWeight":"bold","fontStyle":"italic","color":"#f15a24"},"encoding":{"text":{"field":"t"}}},
     {"data":{"values":[{"s":"r","lo":530,"hi":642},{"s":"b","lo":757,"hi":929},{"s":"g","lo":991,"hi":1171},{"s":"p","lo":1839,"hi":1971}]},"mark":{"type":"rule","strokeWidth":2,"clip":true},"encoding":{"x":{"field":"lo","type":"quantitative","title":null},"x2":{"field":"hi"},"y":{"datum":84.8},"color":{"field":"s","type":"nominal","scale":{"domain":["r","b","g","p","o"],"range":["#ed1c24","#2e3192","#39b54a","#4a1f5e","#f7941d"]},"legend":null}}},
     {"data":{"values":[{"s":"r","age":586},{"s":"b","age":843},{"s":"g","age":1081},{"s":"p","age":1905}]},"mark":{"type":"circle","size":110,"opacity":1},"encoding":{"y":{"datum":84.8},"color":{"field":"s","type":"nominal","scale":{"domain":["r","b","g","p","o"],"range":["#ed1c24","#2e3192","#39b54a","#4a1f5e","#f7941d"]},"legend":null}}},
     {"data":{"values":[{"s":"r","age":442,"d":91.8,"t":"586±56"},{"s":"b","age":896,"d":78.2,"t":"843±86"},{"s":"g","age":1222,"d":91.8,"t":"1081±90"},{"s":"p","age":2105,"d":91.8,"t":"1905±66"}]},"mark":{"type":"text","fontSize":20},"encoding":{"text":{"field":"t"},"color":{"field":"s","type":"nominal","scale":{"domain":["r","b","g","p","o"],"range":["#ed1c24","#3b3f98","#4cb857","#4e2a63","#f7941d"]},"legend":null}}},
     {"data":{"name":"pb"},"mark":{"type":"arc","outerRadius":78,"stroke":"#222222","strokeWidth":1},"encoding":{"x":{"field":"age2","type":"quantitative","title":null},"theta":{"field":"n","type":"quantitative","stack":true,"scale":{"range":[0.698,6.981],"nice":false}},"order":{"field":"k","type":"quantitative"},"color":{"field":"s","type":"nominal","scale":{"domain":["na","gy","r","b","g","p","o"],"range":["#c8c8c8","#9a9a9a","#b5171d","#232670","#2b8a39","#4a3355","#c77414"]},"legend":null}}},
     {"data":{"name":"pb"},"mark":{"type":"arc","outerRadius":78,"stroke":"#222222","strokeWidth":1},"encoding":{"theta":{"field":"n","type":"quantitative","stack":true,"scale":{"range":[0.698,6.981],"nice":false}},"order":{"field":"k","type":"quantitative"},"color":{"field":"s","type":"nominal","scale":{"domain":["na","gy","r","b","g","p","o"],"range":["#e6e6e6","#bdbdbd","#ed1c24","#2e3192","#39b54a","#40174f","#f7941d"]},"legend":null}}},
     {"data":{"name":"pb"},"mark":{"type":"text","radius":52,"color":"white","fontWeight":"bold","fontSize":13},"encoding":{"theta":{"field":"n","type":"quantitative","stack":true,"scale":{"range":[0.698,6.981],"nice":false}},"order":{"field":"k","type":"quantitative"},"text":{"field":"lab"}}},
     {"data":{"values":[{"s":"gy","age":3990,"d":79.8,"t":"18-8%"},{"s":"o","age":4045,"d":70,"t":"2-1%"},{"s":"r","age":4065,"d":59.5,"t":"13-5%"},{"s":"b","age":4040,"d":47.5,"t":"13-5%"},{"s":"g","age":3960,"d":37.7,"t":"7-3%"},{"s":"p","age":3830,"d":29.2,"t":"7-3%"}]},"mark":{"type":"text","fontSize":17,"fontStyle":"italic","align":"left"},"encoding":{"text":{"field":"t"},"color":{"field":"s","type":"nominal","scale":{"domain":["r","b","g","p","o","gy","k"],"range":["#ed1c24","#3b3f98","#39b54a","#4e2a63","#f7941d","#7a7a7a","#333333"]},"legend":null}}},
     {"data":{"values":[{"age":3122,"d":40.5,"t":"176-75%"}]},"mark":{"type":"text","fontSize":18,"fontStyle":"italic","color":"#333333"},"encoding":{"text":{"field":"t"}}},
     {"data":{"values":[{"age":3047,"d":50.2,"t":"no age"}]},"mark":{"type":"text","fontSize":18,"color":"#333333"},"encoding":{"text":{"field":"t"}}}
    ],
    "resolve":{"scale":{"color":"independent"}}},
   {"width":193,"height":257,"view":{"stroke":"black","strokeWidth":2},
    "encoding":{"x":{"field":"col","type":"quantitative","scale":{"domain":[0,10]},"axis":null},"y":{"field":"line","type":"quantitative","scale":{"domain":[0,10.28],"reverse":true},"axis":null}},
    "layer":[
     {"data":{"values":[{"col":0.41,"line":0.86,"t":"HL01-K22"}]},"mark":{"type":"text","align":"left","baseline":"middle","fontSize":22,"fontWeight":"bold","fontStyle":"italic","color":"#f15a24"},"encoding":{"text":{"field":"t"}}},
     {"data":{"values":[{"col":0.41,"line":2.02,"t":"Zircons"},{"col":0.41,"line":6.12,"t":"Apatites"}]},"mark":{"type":"text","align":"left","baseline":"middle","fontSize":19,"fontWeight":"bold","fontStyle":"italic","color":"#111111"},"encoding":{"text":{"field":"t"}}},
     {"data":{"values":[{"col":1.35,"line":3.06,"t":"95% C, n=93","k":"c95"},{"col":1.35,"line":4.04,"t":"all, n=123","k":"call"},{"col":0.41,"line":5.04,"t":"V","k":"blk"},{"col":1.71,"line":5.04,"t":"= 0.129","k":"blk"},{"col":1.35,"line":7.0,"t":"Group 1, n=42/259","k":"grp"},{"col":0.41,"line":7.98,"t":"V","k":"blk"},{"col":1.71,"line":7.98,"t":"= 0.062","k":"blk"}]},"mark":{"type":"text","align":"left","baseline":"middle","fontSize":18},"encoding":{"text":{"field":"t"},"color":{"field":"k","type":"nominal","scale":{"domain":["c95","call","blk","grp"],"range":["#f26f55","#f7a940","#111111","#5b1a10"]},"legend":null}}},
     {"data":{"values":[{"col":1.0,"line":5.38,"t":"k-s"},{"col":1.0,"line":8.32,"t":"k-s"}]},"mark":{"type":"text","align":"left","baseline":"middle","fontSize":8,"color":"#111111"},"encoding":{"text":{"field":"t"}}},
     {"data":{"values":[{"col":0.73,"line":3.06,"k":"c95"},{"col":0.73,"line":4.04,"k":"call"}]},"mark":{"type":"point","shape":"circle","filled":false,"size":55,"strokeWidth":1.3},"encoding":{"color":{"field":"k","type":"nominal","scale":{"domain":["c95","call","blk","grp"],"range":["#f26f55","#f7a940","#111111","#5b1a10"]},"legend":null}}},
     {"data":{"values":[{"col":0.73,"line":7.0,"k":"grp"}]},"mark":{"type":"circle","size":60,"opacity":1},"encoding":{"color":{"field":"k","type":"nominal","scale":{"domain":["c95","call","blk","grp"],"range":["#f26f55","#f7a940","#111111","#5b1a10"]},"legend":null}}}
    ]}
  ],"spacing":-4,"resolve":{"scale":{"color":"independent","theta":"independent"}}},
  {"width":541,"height":37,"view":{"stroke":"black","strokeWidth":2},"data":{"name":"sb"},
   "encoding":{"x":{"field":"age","type":"quantitative","scale":{"domain":[0,4500],"nice":false,"zero":false},"title":null,"axis":{"values":[500,1000,1500,2000,2500,3000,3500,4000],"grid":true,"labels":false,"ticks":false,"domain":false,"title":null,"gridColor":{"condition":{"test":"datum.value % 1000 === 0","value":"#707070"},"value":"#b0b0b0"},"gridWidth":1.2}},"y":{"field":"s","type":"nominal","scale":{"type":"point","domain":["95","all","apt"],"padding":0.85,"align":0.47},"axis":null}},
   "layer":[
    {"transform":[{"filter":"datum.s !== 'apt'"}],"mark":{"type":"point","shape":"circle","filled":false,"size":45,"strokeWidth":1.2},"encoding":{"color":{"field":"s","type":"nominal","scale":{"domain":["95","all"],"range":["#f07a5f","#f8b25e"]},"legend":null}}},
    {"transform":[{"filter":"datum.s === 'apt'"}],"mark":{"type":"circle","size":50,"opacity":1,"color":"#5b1a10"}}
   ]}
 ],"spacing":-4,"resolve":{"scale":{"color":"independent","theta":"independent"}}}
],"spacing":-2,"resolve":{"scale":{"color":"independent","theta":"independent"}}},

{"hconcat": [
 {"width":40,"height":37,"view":{"fill":"black","stroke":null},"data":{"values":[{"t":"a."}]},"mark":{"type":"text","color":"white","fontSize":23},"encoding":{"text":{"field":"t"}}},
 {"vconcat": [
  {"hconcat": [
   {"width":541,"height":260,"view":{"stroke":"black","strokeWidth":2},
    "encoding":{"x":{"field":"age","type":"quantitative","scale":{"domain":[0,4500],"nice":false,"zero":false},"title":null,"axis":{"values":[500,1000,1500,2000,2500,3000,3500,4000],"grid":true,"labels":false,"ticks":false,"domain":false,"title":null,"gridColor":{"condition":{"test":"datum.value % 1000 === 0","value":"#707070"},"value":"#b0b0b0"},"gridWidth":1.2}},"y":{"field":"d","type":"quantitative","scale":{"domain":[0,100]},"axis":null}},
    "layer":[
     {"data":{"name":"ka_all"},"mark":{"type":"area","interpolate":"monotone","color":"#8dc63f"}},
     {"data":{"name":"ka_95"},"mark":{"type":"area","interpolate":"monotone","color":"#149a3f"}},
     {"data":{"name":"aa"},"mark":{"type":"line","interpolate":"monotone","color":"#235a3a","strokeDash":[5,4],"strokeWidth":2,"clip":true}},
     {"data":{"values":[{"age":165,"d":13,"t":"c.270"},{"age":394,"d":22.5,"t":"c.500"},{"age":913,"d":20.6,"t":"c.950"},{"age":1946,"d":34,"t":"c. 2000"}]},"mark":{"type":"text","angle":270,"fontSize":18,"fontWeight":"bold","fontStyle":"italic","color":"#149a3f"},"encoding":{"text":{"field":"t"}}},
     {"data":{"values":[{"s":"o","lo":-106,"hi":254},{"s":"r","lo":571,"hi":603},{"s":"b","lo":736,"hi":860},{"s":"g","lo":1028,"hi":1090},{"s":"p","lo":1904,"hi":2544}]},"mark":{"type":"rule","strokeWidth":2,"clip":true},"encoding":{"x":{"field":"lo","type":"quantitative","title":null},"x2":{"field":"hi"},"y":{"datum":85.9},"color":{"field":"s","type":"nominal","scale":{"domain":["r","b","g","p","o"],"range":["#ed1c24","#2e3192","#39b54a","#4a1f5e","#f7941d"]},"legend":null}}},
     {"data":{"values":[{"s":"o","age":74},{"s":"r","age":587},{"s":"b","age":798},{"s":"g","age":1059},{"s":"p","age":2224}]},"mark":{"type":"circle","size":110,"opacity":1},"encoding":{"y":{"datum":85.9},"color":{"field":"s","type":"nominal","scale":{"domain":["r","b","g","p","o"],"range":["#ed1c24","#2e3192","#39b54a","#4a1f5e","#f7941d"]},"legend":null}}},
     {"data":{"values":[{"s":"r","age":513,"d":92,"t":"587±16"},{"s":"b","age":930,"d":79,"t":"798±62"},{"s":"g","age":1341,"d":92,"t":"1059±31"},{"s":"p","age":2244,"d":92,"t":"2224±320"}]},"mark":{"type":"text","fontSize":20},"encoding":{"text":{"field":"t"},"color":{"field":"s","type":"nominal","scale":{"domain":["r","b","g","p","o"],"range":["#ed1c24","#3b3f98","#4cb857","#4e2a63","#f7941d"]},"legend":null}}},
     {"data":{"values":[{"age":0,"d":79,"t":"74±180"}]},"mark":{"type":"text","fontSize":20,"align":"left","color":"#f7941d"},"encoding":{"text":{"field":"t"}}},
     {"data":{"name":"pa"},"mark":{"type":"arc","outerRadius":78,"stroke":"#222222","strokeWidth":1},"encoding":{"x":{"field":"age2","type":"quantitative","title":null},"theta":{"field":"n","type":"quantitative","stack":true,"scale":{"range":[1.047,7.330],"nice":false}},"order":{"field":"k","type":"quantitative"},"color":{"field":"s","type":"nominal","scale":{"domain":["na","gy","r","b","g","p","o"],"range":["#c8c8c8","#9a9a9a","#b5171d","#232670","#2b8a39","#4a3355","#c77414"]},"legend":null}}},
     {"data":{"name":"pa"},"mark":{"type":"arc","outerRadius":78,"stroke":"#222222","strokeWidth":1},"encoding":{"theta":{"field":"n","type":"quantitative","stack":true,"scale":{"range":[1.047,7.330],"nice":false}},"order":{"field":"k","type":"quantitative"},"color":{"field":"s","type":"nominal","scale":{"domain":["na","gy","r","b","g","p","o"],"range":["#e6e6e6","#bdbdbd","#ed1c24","#2e3192","#39b54a","#40174f","#f7941d"]},"legend":null}}},
     {"data":{"name":"pa"},"mark":{"type":"text","radius":56,"color":"white","fontWeight":"bold","fontSize":12},"encoding":{"theta":{"field":"n","type":"quantitative","stack":true,"scale":{"range":[1.047,7.330],"nice":false}},"order":{"field":"k","type":"quantitative"},"text":{"field":"lab"}}},
     {"data":{"values":[{"s":"gy","age":3995,"d":65.6,"t":"18-8%"},{"s":"o","age":4037,"d":50.8,"t":"4-2%"},{"s":"r","age":3995,"d":44.7,"t":"4-2%"},{"s":"b","age":3970,"d":37,"t":"10-5%"},{"s":"g","age":3890,"d":28.6,"t":"8-4%"},{"s":"p","age":3765,"d":22,"t":"3-1%"}]},"mark":{"type":"text","fontSize":17,"fontStyle":"italic","align":"left"},"encoding":{"text":{"field":"t"},"color":{"field":"s","type":"nominal","scale":{"domain":["r","b","g","p","o","gy","k"],"range":["#ed1c24","#3b3f98","#39b54a","#4e2a63","#f7941d","#7a7a7a","#333333"]},"legend":null}}},
     {"data":{"values":[{"age":3135,"d":78.6,"t":"no age"},{"age":3135,"d":69,"t":"173-78%"}]},"mark":{"type":"text","fontSize":18,"color":"#333333"},"encoding":{"text":{"field":"t"}}}
    ],
    "resolve":{"scale":{"color":"independent"}}},
   {"width":193,"height":260,"view":{"stroke":"black","strokeWidth":2},
    "encoding":{"x":{"field":"col","type":"quantitative","scale":{"domain":[0,10]},"axis":null},"y":{"field":"line","type":"quantitative","scale":{"domain":[0,10.4],"reverse":true},"axis":null}},
    "layer":[
     {"data":{"values":[{"col":0.41,"line":0.86,"t":"PI2bis-K48"}]},"mark":{"type":"text","align":"left","baseline":"middle","fontSize":22,"fontWeight":"bold","fontStyle":"italic","color":"#1a9d3c"},"encoding":{"text":{"field":"t"}}},
     {"data":{"values":[{"col":0.41,"line":2.02,"t":"Zircons"},{"col":0.41,"line":6.12,"t":"Apatites"}]},"mark":{"type":"text","align":"left","baseline":"middle","fontSize":19,"fontWeight":"bold","fontStyle":"italic","color":"#111111"},"encoding":{"text":{"field":"t"}}},
     {"data":{"values":[{"col":1.35,"line":3.06,"t":"95% C, n=142","k":"c95"},{"col":1.35,"line":4.04,"t":"all, n=153","k":"call"},{"col":0.41,"line":5.04,"t":"V","k":"blk"},{"col":1.71,"line":5.04,"t":"= 0.134","k":"blk"},{"col":1.35,"line":7.0,"t":"Group 1, n=29/224","k":"grp"},{"col":0.41,"line":7.98,"t":"V","k":"blk"},{"col":1.71,"line":7.98,"t":"= 0.068","k":"blk"}]},"mark":{"type":"text","align":"left","baseline":"middle","fontSize":18},"encoding":{"text":{"field":"t"},"color":{"field":"k","type":"nominal","scale":{"domain":["c95","call","blk","grp"],"range":["#2aa74a","#9ccb5a","#111111","#1d5a33"]},"legend":null}}},
     {"data":{"values":[{"col":1.0,"line":5.38,"t":"k-s"},{"col":1.0,"line":8.32,"t":"k-s"}]},"mark":{"type":"text","align":"left","baseline":"middle","fontSize":8,"color":"#111111"},"encoding":{"text":{"field":"t"}}},
     {"data":{"values":[{"col":0.73,"line":3.06,"k":"c95"},{"col":0.73,"line":4.04,"k":"call"}]},"mark":{"type":"point","shape":"circle","filled":false,"size":55,"strokeWidth":1.3},"encoding":{"color":{"field":"k","type":"nominal","scale":{"domain":["c95","call","blk","grp"],"range":["#2aa74a","#9ccb5a","#111111","#1d5a33"]},"legend":null}}},
     {"data":{"values":[{"col":0.73,"line":7.0,"k":"grp"}]},"mark":{"type":"circle","size":60,"opacity":1},"encoding":{"color":{"field":"k","type":"nominal","scale":{"domain":["c95","call","blk","grp"],"range":["#2aa74a","#9ccb5a","#111111","#1d5a33"]},"legend":null}}}
    ]}
  ],"spacing":-4,"resolve":{"scale":{"color":"independent","theta":"independent"}}},
  {"width":541,"height":35,"view":{"stroke":"black","strokeWidth":2},"data":{"name":"sa"},
   "encoding":{"x":{"field":"age","type":"quantitative","scale":{"domain":[0,4500],"nice":false,"zero":false},"title":"Age (Ma)","axis":{"values":[0,100,200,300,400,500,600,700,800,900,1000,1100,1200,1300,1400,1500,1600,1700,1800,1900,2000,2100,2200,2300,2400,2500,2600,2700,2800,2900,3000,3100,3200,3300,3400,3500,3600,3700,3800,3900,4000,4100,4200,4300,4400,4500],"grid":true,"gridOpacity":{"condition":{"test":"datum.value % 500 === 0 && datum.value > 0 && datum.value < 4500","value":1},"value":0},"gridColor":{"condition":{"test":"datum.value % 1000 === 0","value":"#707070"},"value":"#b0b0b0"},"gridWidth":1.2,"domain":false,"ticks":true,"tickColor":"black","tickWidth":1.5,"tickSize":{"condition":{"test":"datum.value % 500 === 0","value":8},"value":4},"labelExpr":"datum.value % 500 === 0 ? datum.label : ''","labelAlign":{"condition":{"test":"datum.value === 0","value":"left"},"value":"center"},"format":"d","labelFontSize":17,"labelColor":"black","labelOverlap":false,"labelFlush":false,"labelPadding":0,"title":"Age (Ma)","titleFontSize":22,"titleFontWeight":"normal","titleColor":"black","titlePadding":0}},"y":{"field":"s","type":"nominal","scale":{"type":"point","domain":["95","all","apt"],"padding":0.67,"align":0.43},"axis":null}},
   "layer":[
    {"transform":[{"filter":"datum.s !== 'apt'"}],"mark":{"type":"point","shape":"circle","filled":false,"size":45,"strokeWidth":1.2},"encoding":{"color":{"field":"s","type":"nominal","scale":{"domain":["95","all"],"range":["#2ea84c","#a6d46c"]},"legend":null}}},
    {"transform":[{"filter":"datum.s === 'apt'"}],"mark":{"type":"circle","size":50,"opacity":1,"color":"#1d5a33"}}
   ]}
 ],"spacing":-4,"resolve":{"scale":{"color":"independent","theta":"independent"}}}
],"spacing":-2,"resolve":{"scale":{"color":"independent","theta":"independent"}}}
],"spacing":-4,"resolve":{"scale":{"color":"independent","theta":"independent"}}},

{"width":82,"height":1664,"view":{"stroke":null},
 "encoding":{"x":{"field":"col","type":"quantitative","scale":{"domain":[0,82]},"axis":null},"y":{"field":"line","type":"quantitative","scale":{"domain":[0,1664],"reverse":true},"axis":null},"text":{"field":"t"},"color":{"field":"k","type":"nominal","scale":{"domain":["chela","chela2","djeno","djeno2","vandji"],"range":["#1b75bc","#2b8fd4","#f15a24","#f36b3c","#1a9d3c"]},"legend":null}},
 "layer":[
  {"data":{"values":[{"col":31,"line":420,"t":"Chela Formation","k":"chela"},{"col":31,"line":1223,"t":"Djeno Formation","k":"djeno"},{"col":32,"line":1524,"t":"Vandji Formation","k":"vandji"}]},"mark":{"type":"text","angle":270,"fontSize":29,"fontWeight":"bold","fontStyle":"italic"}},
  {"data":{"values":[{"col":63,"line":421,"t":"Rift: hyperextenional phase (sag)","k":"chela2"},{"col":63,"line":1223,"t":"Rift: stretching phase","k":"djeno2"}]},"mark":{"type":"text","angle":270,"fontSize":30}},
  {"data":{"values":[{"col":63,"line":1546,"t":"-Pre-rift","k":"vandji"}]},"mark":{"type":"text","angle":270,"fontSize":27}}
 ]}
],
"spacing": -2,
"resolve": {"scale": {"color": "independent", "theta": "independent"}}
}
